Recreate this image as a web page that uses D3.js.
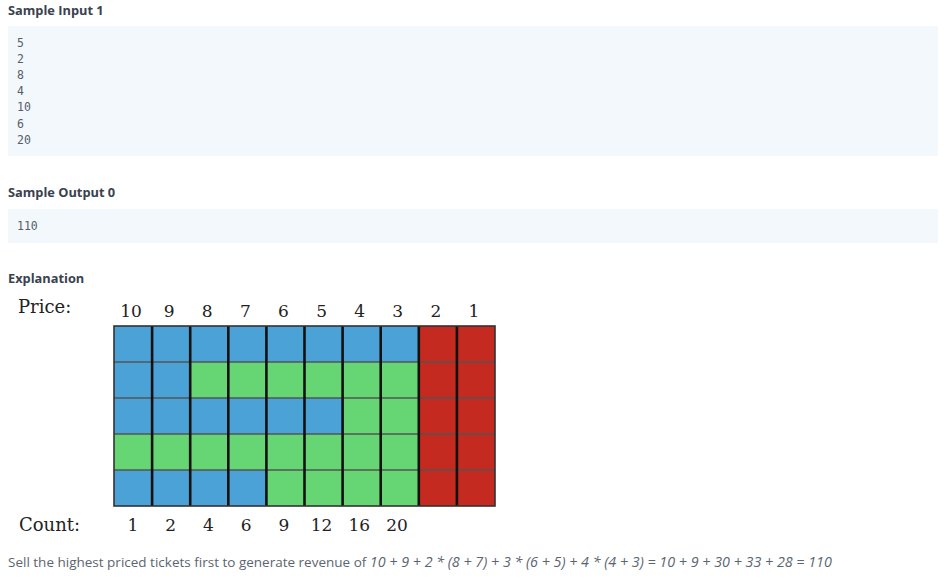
<!DOCTYPE html>
<html>
<head>
<meta charset="utf-8">
<script src="https://cdn.jsdelivr.net/npm/d3@7"></script>
<style>
  body { margin: 0; background: #fff; }
</style>
</head>
<body>
<div id="chart"></div>
<script>
// values
var sampleInput = ["5", "2", "8", "4", "10", "6", "20"];
var sampleOutput = ["110"];
var prices = [10, 9, 8, 7, 6, 5, 4, 3, 2, 1];
var counts = [1, 2, 4, 6, 9, 12, 16, 20];
// one string per row (top to bottom), one letter per price column
// B = blue, G = green, R = red
var gridRows = [
  "BBBBBBBBRR",
  "BBGGGGGGRR",
  "BBBBBBGGRR",
  "GGGGGGGGRR",
  "BBBBGGGGRR"
];

var svgWidth = 950;
var svgHeight = 578;

var svg = d3.select("#chart")
  .append("svg")
  .attr("width", svgWidth)
  .attr("height", svgHeight);

var headColor = "#39424e";
var sans = "'Open Sans', sans-serif";
var serif = "'DejaVu Serif', serif";
var mono = "'DejaVu Sans Mono', monospace";

// page headings
function heading(txt, y) {
  svg.append("text")
    .attr("x", 8)
    .attr("y", y)
    .attr("font-family", sans)
    .attr("font-weight", "bold")
    .attr("font-size", 12.8)
    .attr("fill", headColor)
    .text(txt);
}

// code blocks
function codeBox(lines, top, height) {
  svg.append("rect")
    .attr("x", 8)
    .attr("y", top)
    .attr("width", 930)
    .attr("height", height)
    .attr("fill", "#f3f8fc");

  svg.append("g").selectAll("text")
    .data(lines)
    .enter()
    .append("text")
    .attr("x", 17)
    .attr("y", (d, i) => top + 21 + i * 16.1)
    .attr("font-family", mono)
    .attr("font-size", 11.5)
    .attr("fill", "#555f69")
    .text(d => d);
}

heading("Sample Input 1", 15);
codeBox(sampleInput, 26, 130);

heading("Sample Output 0", 197);
codeBox(sampleOutput, 209, 34);

heading("Explanation", 283);

// grid
var grid = { left: 114, right: 495, top: 326, bottom: 506 };

var xScale = d3.scaleBand()
  .domain(prices)
  .range([grid.left, grid.right]);

var yScale = d3.scaleBand()
  .domain(d3.range(gridRows.length))
  .range([grid.top, grid.bottom]);

var colorScale = d3.scaleOrdinal()
  .domain(["B", "G", "R"])
  .range(["#4ba2d6", "#66d574", "#c42a20"]);

var cells = [];
gridRows.forEach(function(row, r) {
  row.split("").forEach(function(c, i) {
    cells.push({ row: r, price: prices[i], color: c });
  });
});

var chartGroup = svg.append("g");

chartGroup.selectAll("rect.cell")
  .data(cells)
  .enter()
  .append("rect")
  .attr("class", "cell")
  .attr("x", d => xScale(d.price))
  .attr("y", d => yScale(d.row))
  .attr("width", xScale.bandwidth())
  .attr("height", yScale.bandwidth())
  .attr("fill", d => colorScale(d.color));

// horizontal separators (thin, grey)
chartGroup.selectAll("line.h")
  .data(d3.range(1, gridRows.length))
  .enter()
  .append("line")
  .attr("x1", grid.left)
  .attr("x2", grid.right)
  .attr("y1", d => yScale(d))
  .attr("y2", d => yScale(d))
  .attr("stroke", "#555")
  .attr("stroke-width", 1.5);

// vertical separators (thick, black)
chartGroup.selectAll("line.v")
  .data(prices.slice(1))
  .enter()
  .append("line")
  .attr("x1", d => xScale(d))
  .attr("x2", d => xScale(d))
  .attr("y1", grid.top)
  .attr("y2", grid.bottom)
  .attr("stroke", "#111")
  .attr("stroke-width", 2.6);

chartGroup.append("rect")
  .attr("x", grid.left)
  .attr("y", grid.top)
  .attr("width", grid.right - grid.left)
  .attr("height", grid.bottom - grid.top)
  .attr("fill", "none")
  .attr("stroke", "#333")
  .attr("stroke-width", 1.6);

// price labels
svg.append("text")
  .attr("x", 18)
  .attr("y", 313)
  .attr("font-family", serif)
  .attr("font-size", 18)
  .attr("fill", "#222")
  .text("Price:");

svg.append("g").selectAll("text")
  .data(prices)
  .enter()
  .append("text")
  .attr("x", d => xScale(d) + xScale.bandwidth() / 2 - 2)
  .attr("y", 317)
  .attr("text-anchor", "middle")
  .attr("font-family", serif)
  .attr("font-size", 17)
  .attr("fill", "#222")
  .text(d => d);

// count labels
var countScale = d3.scalePoint()
  .domain(counts)
  .range([133, 397]);

svg.append("text")
  .attr("x", 19)
  .attr("y", 531)
  .attr("font-family", serif)
  .attr("font-size", 18)
  .attr("fill", "#222")
  .text("Count:");

svg.append("g").selectAll("text")
  .data(counts)
  .enter()
  .append("text")
  .attr("x", d => countScale(d))
  .attr("y", 531)
  .attr("text-anchor", "middle")
  .attr("font-family", serif)
  .attr("font-size", 17)
  .attr("fill", "#222")
  .text(d => d);

// caption
var caption = svg.append("text")
  .attr("x", 8)
  .attr("y", 567)
  .attr("font-family", sans)
  .attr("font-size", 13.5)
  .attr("fill", "#5b6570");

caption.append("tspan")
  .text("Sell the highest priced tickets first to generate revenue of ");
caption.append("tspan")
  .attr("font-style", "italic")
  .attr("font-size", 14.3)
  .text("10 + 9 + 2 * (8 + 7) + 3 * (6 + 5) + 4 * (4 + 3) = 10 + 9 + 30 + 33 + 28 = 110");
</script>
</body>
</html>
